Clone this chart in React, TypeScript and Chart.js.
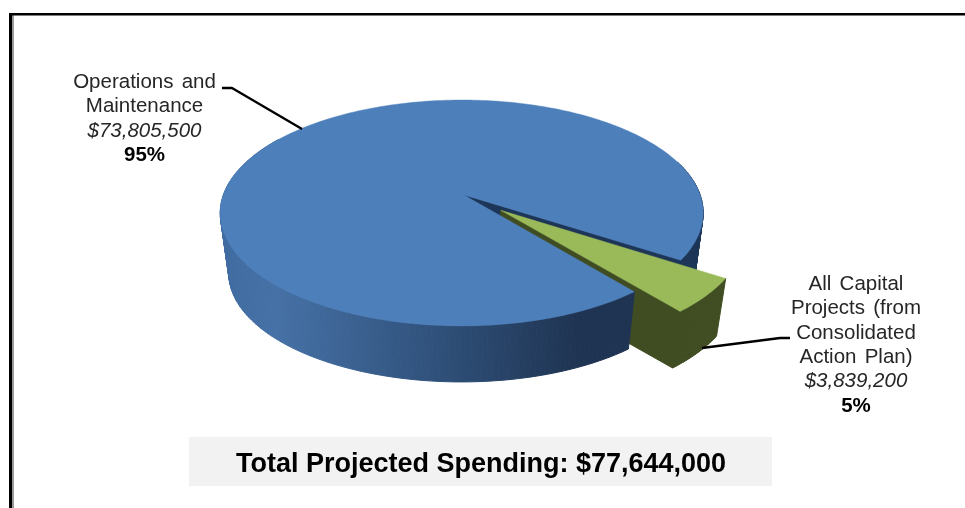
import React, { useEffect, useRef } from "react";
import { Chart, registerables } from "chart.js";

Chart.register(...registerables);

// Spending categories and amounts
const categories = ["Operations and Maintenance", "All Capital Projects (from Consolidated Action Plan)"];
const amounts = [73805500, 3839200];
const amountLabels = ["$73,805,500", "$3,839,200"];
const shareLabels = ["95%", "5%"];
const nameLines = [
  ["Operations and", "Maintenance"],
  ["All Capital", "Projects (from", "Consolidated", "Action Plan)"],
];
const totalLabel = "Total Projected Spending: $77,644,000";

const W = 965;
const H = 508;

// Perspective used to tilt the flat pie: x/y gain, foreshortening on both
// axes, and how the lower face of the disc shrinks toward a vanishing point.
const TILT = { gainX: 238.4, gainY: 110.1, perspY: 0.159, perspX: 0.0094, shrink: 0.965, vanishY: 1926 };

const FONT = '"Liberation Sans", Arial, sans-serif';

type Pt = { x: number; y: number };

const pie3d = {
  id: "pie3d",
  beforeDatasetsDraw(chart: any) {
    const ctx: CanvasRenderingContext2D = chart.ctx;
    const [blue, green] = chart.getDatasetMeta(0).data as any[];
    const R = blue.outerRadius;
    const cx = blue.x;
    const cy = blue.y;

    const top = (dx: number, dy: number): Pt => {
      const w = 1 - (TILT.perspY * dy) / R + (TILT.perspX * dx) / R;
      return { x: cx + (TILT.gainX * dx) / R / w, y: cy + (TILT.gainY * dy) / R / w };
    };
    const low = (p: Pt): Pt => ({
      x: cx + TILT.shrink * (p.x - cx),
      y: TILT.vanishY + TILT.shrink * (p.y - TILT.vanishY),
    });
    const shift = (el: any) => {
      const mid = (el.startAngle + el.endAngle) / 2;
      const off = el.options.offset || 0;
      return { ox: Math.cos(mid) * off, oy: Math.sin(mid) * off };
    };
    const rim = (el: any, a0: number, a1: number): Pt[] => {
      const { ox, oy } = shift(el);
      const n = Math.max(2, Math.ceil(Math.abs(a1 - a0) / 0.02));
      const pts: Pt[] = [];
      for (let i = 0; i <= n; i++) {
        const a = a0 + ((a1 - a0) * i) / n;
        pts.push(top(ox + R * Math.cos(a), oy + R * Math.sin(a)));
      }
      return pts;
    };
    const hub = (el: any): Pt => {
      const { ox, oy } = shift(el);
      return top(ox, oy);
    };
    const fill = (pts: Pt[], style: string | CanvasGradient, seam = 0.4) => {
      ctx.beginPath();
      pts.forEach((p, i) => (i ? ctx.lineTo(p.x, p.y) : ctx.moveTo(p.x, p.y)));
      ctx.closePath();
      ctx.fillStyle = style;
      ctx.fill();
      ctx.strokeStyle = style;
      ctx.lineWidth = seam;
      ctx.stroke();
    };
    // Walls go quad by quad so the strip stays solid where it folds at the silhouette
    const wall = (pts: Pt[], style: string | CanvasGradient) => {
      for (let i = 0; i + 1 < pts.length; i++) {
        fill([pts[i], pts[i + 1], low(pts[i + 1]), low(pts[i])], style, 1);
      }
    };

    const side = ctx.createLinearGradient(222, 0, 640, 0);
    side.addColorStop(0, "#3f6ba0");
    side.addColorStop(0.13, "#4671a6");
    side.addColorStop(0.5, "#30527c");
    side.addColorStop(0.85, "#1f3452");
    side.addColorStop(1, "#1f3452");

    const DARK_BLUE = "#1d3557";
    const OLIVE = "#404d22";
    const blueEnd = blue.endAngle;

    // Far cut face and right-hand rim of the main slice
    wall([hub(blue), ...rim(blue, blueEnd, blueEnd)], DARK_BLUE);
    wall(rim(blue, blueEnd - 0.9, blueEnd), DARK_BLUE);

    // Walls of the pulled-out slice
    const gRim = rim(green, green.startAngle, green.endAngle);
    wall(gRim, OLIVE);
    wall([gRim[gRim.length - 1], hub(green)], OLIVE);

    // Near rim of the main slice, then both top faces
    wall(rim(blue, blue.startAngle, blue.startAngle + Math.PI * 0.9), side);
    fill([hub(blue), ...rim(blue, blue.startAngle, blue.endAngle)], "#4d7fbb");
    fill([hub(green), ...gRim], "#9aba59");

    return false;
  },
};

const annotations = {
  id: "annotations",
  afterDraw(chart: any) {
    const ctx: CanvasRenderingContext2D = chart.ctx;
    ctx.save();

    // Black frame open on the right and bottom, with a grey inner edge
    ctx.fillStyle = "#9a9a9a";
    ctx.fillRect(12, 15, 2, H - 15);
    ctx.fillStyle = "#000000";
    ctx.fillRect(9, 13, W - 9, 2.5);
    ctx.fillRect(9, 13, 3, H - 13);

    // Leader lines
    ctx.strokeStyle = "#000000";
    ctx.lineWidth = 2.4;
    ctx.lineJoin = "round";
    ctx.beginPath();
    ctx.moveTo(222, 88);
    ctx.lineTo(232, 88);
    ctx.lineTo(302, 129);
    ctx.moveTo(702, 348);
    ctx.lineTo(780, 338);
    ctx.lineTo(790, 338);
    ctx.stroke();

    // Slice captions
    ctx.textAlign = "center";
    ctx.textBaseline = "alphabetic";
    const anchors = [
      { x: 144.5, y: 88 },
      { x: 856, y: 290 },
    ];
    const LINE = 24.3;
    categories.forEach((_, i) => {
      const { x } = anchors[i];
      let y = anchors[i].y;
      ctx.fillStyle = "#262626";
      ctx.font = `20.5px ${FONT}`;
      (ctx as any).wordSpacing = "2.5px";
      nameLines[i].forEach((line) => {
        ctx.fillText(line, x, y);
        y += LINE;
      });
      (ctx as any).wordSpacing = "0px";
      ctx.font = `italic 20.5px ${FONT}`;
      ctx.fillText(amountLabels[i], x, y);
      y += LINE;
      ctx.fillStyle = "#000000";
      ctx.font = `bold 20.5px ${FONT}`;
      ctx.fillText(shareLabels[i], x, y);
    });

    // Total banner
    ctx.fillStyle = "#f2f2f2";
    ctx.fillRect(189, 437, 583, 49);
    ctx.fillStyle = "#000000";
    ctx.font = `bold 27px ${FONT}`;
    ctx.fillText(totalLabel, 481, 472);
    ctx.restore();
  },
};

export default function App() {
  const ref = useRef<HTMLCanvasElement>(null);
  useEffect(() => {
    const chart = new Chart(ref.current as HTMLCanvasElement, {
      type: "pie",
      data: {
        labels: categories,
        datasets: [
          {
            data: amounts,
            backgroundColor: ["#4d7fbb", "#9aba59"],
            borderWidth: 0,
            offset: [0, 36],
          },
        ],
      },
      options: {
        responsive: false,
        animation: false,
        rotation: 140.9,
        layout: { padding: { left: 0, top: 0, right: 37, bottom: 118 } },
        plugins: { legend: { display: false }, tooltip: { enabled: false } },
      },
      plugins: [pie3d, annotations],
    } as any);
    return () => chart.destroy();
  }, []);
  return (
    <div style={{ position: "fixed", left: 0, top: 0, width: W, height: H, background: "#ffffff" }}>
      <canvas ref={ref} width={W} height={H} style={{ display: "block" }} />
    </div>
  );
}
